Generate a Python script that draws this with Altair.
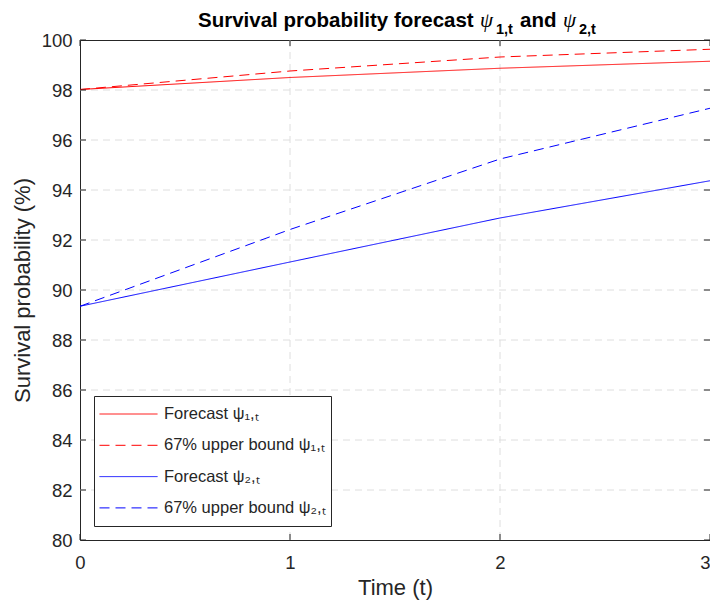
import altair as alt
import pandas as pd

# ---- data ----
t = [0, 1, 2, 3]
forecast_1 = [98.02, 98.50, 98.87, 99.15]
upper_1 = [98.02, 98.76, 99.32, 99.63]
forecast_2 = [89.35, 91.12, 92.88, 94.37]
upper_2 = [89.35, 92.42, 95.24, 97.27]
series_names = [
    "Forecast ψ₁,ₜ",
    "67% upper bound ψ₁,ₜ",
    "Forecast ψ₂,ₜ",
    "67% upper bound ψ₂,ₜ",
]
series_colors = ["#ff0000", "#ff0000", "#0000ff", "#0000ff"]
series_dashes = [[1, 0], [10, 6], [1, 0], [10, 6]]
x_ticks = [0, 1, 2, 3]
y_ticks = [80, 82, 84, 86, 88, 90, 92, 94, 96, 98, 100]
x_grid = [1, 2]
y_grid = [82, 84, 86, 88, 90, 92, 94, 96, 98]

rows = []
for name, vals in zip(series_names, [forecast_1, upper_1, forecast_2, upper_2]):
    for ti, v in zip(t, vals):
        rows.append({"t": ti, "value": v, "series": name})
df = pd.DataFrame(rows)

FONT = "Liberation Sans"
TXT = "#262626"
W, H = 630, 500

X_ENC = alt.X(
    "t:Q",
    scale=alt.Scale(domain=[0, 3], nice=False, zero=False),
    axis=alt.Axis(values=x_ticks, format="d", title="Time (t)",
                  labelPadding=13, titlePadding=6, labelFlush=False,
                  labelAlign=alt.expr("datum.value == 3 ? 'right' : 'center'")),
)
Y_ENC = alt.Y(
    "value:Q",
    scale=alt.Scale(domain=[80, 100], nice=False, zero=False),
    axis=alt.Axis(values=y_ticks, format="d", title="Survival probability (%)",
                  labelPadding=8, titlePadding=7),
)

legend = alt.Legend(
    title=None,
    orient="none",
    legendX=14,
    legendY=356,
    symbolType="stroke",
    symbolSize=3364,
    symbolStrokeWidth=1,
    clipHeight=26,
    rowPadding=5.3,
    labelFontSize=16.5,
    labelFont=FONT,
    labelColor=TXT,
    labelOffset=6,
    labelLimit=400,
    padding=5,
    fillColor="white",
    strokeColor=TXT,
)

grid_style = dict(color="#dedede", strokeDash=[7, 5], strokeWidth=1)
gx = alt.Chart(pd.DataFrame({"t": x_grid})).mark_rule(**grid_style).encode(x=X_ENC)
gy = alt.Chart(pd.DataFrame({"value": y_grid})).mark_rule(**grid_style).encode(y=Y_ENC)

lines = (
    alt.Chart(df)
    .mark_line(strokeWidth=1, clip=True)
    .encode(
        x=X_ENC,
        y=Y_ENC,
        color=alt.Color("series:N", scale=alt.Scale(domain=series_names, range=series_colors), legend=legend),
        strokeDash=alt.StrokeDash("series:N", scale=alt.Scale(domain=series_names, range=series_dashes), legend=legend),
    )
)

# inward tick marks on all four sides (MATLAB style)
tick_style = dict(color=TXT, strokeWidth=1)
xt = pd.DataFrame({"t": x_ticks})
yt = pd.DataFrame({"value": y_ticks})
tk_bottom = alt.Chart(xt).mark_rule(**tick_style).encode(x=X_ENC, y=alt.value(H), y2=alt.value(H - 6))
tk_top = alt.Chart(xt).mark_rule(**tick_style).encode(x=X_ENC, y=alt.value(0), y2=alt.value(6))
tk_left = alt.Chart(yt).mark_rule(**tick_style).encode(y=Y_ENC, x=alt.value(0), x2=alt.value(6))
tk_right = alt.Chart(yt).mark_rule(**tick_style).encode(y=Y_ENC, x=alt.value(W), x2=alt.value(W - 6))

# title with real subscripts, built from text pieces
def title_piece(txt, px, py, size, weight="bold", font=FONT, style="normal"):
    return (
        alt.Chart(pd.DataFrame({"txt": [txt]}))
        .mark_text(align="left", baseline="alphabetic", fontSize=size, fontWeight=weight,
                   font=font, fontStyle=style, color="black", clip=False)
        .encode(text="txt:N", x=alt.value(px), y=alt.value(py))
    )

MAIN_Y, SUB_Y = -13.5, -6
title_layers = [
    title_piece("Survival probability forecast", 118, MAIN_Y, 20.5),
    title_piece("ψ", 400, MAIN_Y, 21, weight="normal", font="Liberation Serif", style="italic"),
    title_piece("1,t", 416, SUB_Y, 14.5),
    title_piece("and", 440, MAIN_Y, 20.5),
    title_piece("ψ", 483, MAIN_Y, 21, weight="normal", font="Liberation Serif", style="italic"),
    title_piece("2,t", 499, SUB_Y, 14.5),
]

chart = (
    alt.layer(gx, gy, lines, tk_bottom, tk_top, tk_left, tk_right, *title_layers)
    .properties(
        width=W,
        height=H,
        autosize=alt.AutoSizeParams(type="none"),
        padding={"left": 72, "top": 32, "right": 0, "bottom": 60},
    )
    .configure_view(stroke=TXT, strokeWidth=1)
    .configure_axis(
        domain=False,
        ticks=False,
        grid=False,
        labelFont=FONT,
        labelFontSize=18.5,
        labelColor=TXT,
        titleFont=FONT,
        titleFontSize=22,
        titleColor=TXT,
        titleFontWeight="normal",
    )
)

chart.save("out.html", embed_options={"renderer": "svg", "actions": False})
